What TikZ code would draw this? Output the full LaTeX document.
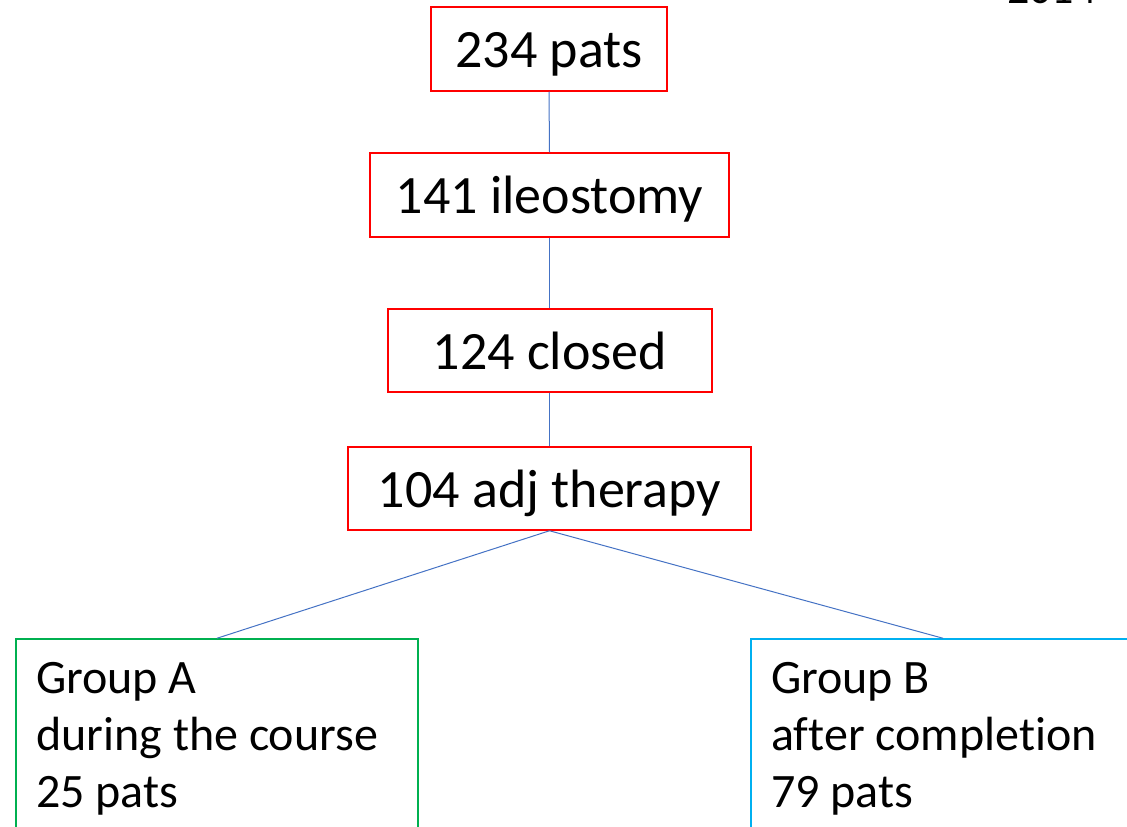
\documentclass[tikz,border=0pt]{standalone}
\usepackage{fontspec}
\setmainfont{Carlito}[Ligatures=NoCommon]
\definecolor{boxred}{HTML}{FF0000}
\definecolor{boxgreen}{HTML}{00B050}
\definecolor{boxcyan}{HTML}{00B0F0}
\definecolor{linkblue}{HTML}{4472C4}
\tikzset{
  stepbox/.style={draw=boxred, line width=1.5pt, inner sep=0pt, text height=37pt, text depth=0pt, font=\fontsize{54}{60}\selectfont},
  groupbox/.style={line width=1.5pt, inner sep=0pt},
  grouptext/.style={anchor=north west, align=left, inner sep=0pt, font=\fontsize{48}{57}\selectfont},
  link/.style={draw=linkblue, line width=1pt}
}
\begin{document}
\begin{tikzpicture}[x=1pt,y=-1pt]
\useasboundingbox (0,0) rectangle (1127,827);
\clip (0,0) rectangle (1127,827);
\node[stepbox, minimum width=236pt, minimum height=84pt] (n1) at (549,49) {234 pats};
\node[stepbox, minimum width=359pt, minimum height=84pt] (n2) at (549.5,195) {141 ileostomy};
\node[stepbox, minimum width=324pt, minimum height=83pt] (n3) at (550,350.5) {124 closed};
\node[stepbox, minimum width=403pt, minimum height=83pt] (n4) at (549.5,488.5) {104 adj therapy};
\node[groupbox, draw=boxgreen, minimum width=402pt, minimum height=262pt] (gA) at (217,770) {};
\node[groupbox, draw=boxcyan, minimum width=384pt, minimum height=262pt] (gB) at (943,770) {};
\node[grouptext] (tA) at (36,662) {Group A\\during the course\\25 pats};
\node[grouptext] (tB) at (771,662) {Group B\\after completion\\79 pats};
\node[anchor=base west, inner sep=0pt, font=\fontsize{44}{50}\selectfont] (yr) at (1007,3) {2014};
\draw[link] (n1.south) -- (n2.north);
\draw[link] (n2.south) -- (n3.north -| n2.south);
\draw[link] (n3.south -| n2.south) -- (n4.north -| n2.south);
\draw[link] (n4.south) -- (gA.north);
\draw[link] (n4.south) -- (gB.north);
\end{tikzpicture}
\end{document}
